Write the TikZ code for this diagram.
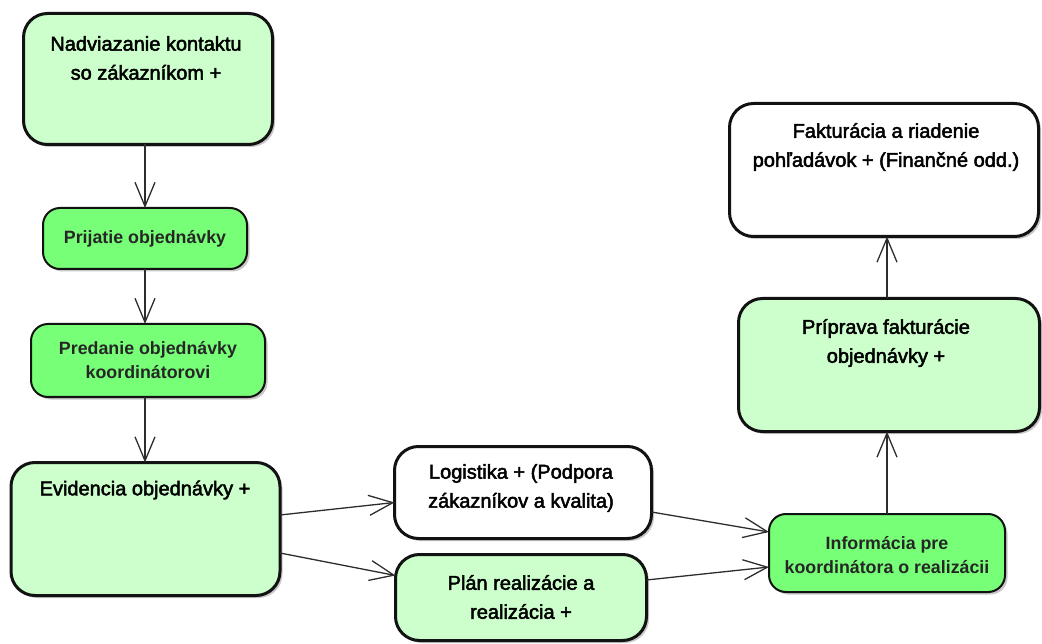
\documentclass[tikz,border=0pt]{standalone}
\usepackage{fontspec}
\setmainfont{Liberation Sans}
\newfontfamily\boxfont[FakeBold=2.4]{Liberation Sans}
\usetikzlibrary{arrows.meta,shadows}

\definecolor{palegreen}{RGB}{204,255,204}
\definecolor{brightgreen}{RGB}{119,255,119}
\definecolor{edgeink}{RGB}{18,18,18}
\definecolor{wireink}{RGB}{45,45,45}

\tikzset{
  stepbox/.style={draw=edgeink, rectangle, inner sep=0pt, outer sep=0pt,
    drop shadow={shadow xshift=2.5pt, shadow yshift=-2.5pt, opacity=0.22, fill=black}},
  major/.style={stepbox, line width=3pt, rounded corners=24pt},
  minor/.style={stepbox, line width=2pt, rounded corners=17pt, fill=brightgreen},
  pale/.style={major, fill=palegreen},
  blank/.style={major, fill=white},
  bigtext/.style={font=\boxfont\fontsize{20}{29}\selectfont, align=center, inner sep=0pt, text=black},
  smalltext/.style={font=\bfseries\fontsize{17.8}{24.5}\selectfont, align=center, inner sep=0pt, text=black!85},
  flow/.style={draw=wireink, line width=1.3pt,
    -{Straight Barb[length=24pt,width=20pt,line width=1.3pt]}}
}

\begin{document}
\begin{tikzpicture}[x=1pt,y=-1pt]
  \useasboundingbox (0,0) rectangle (1042,644);

  % process boxes
  \node[pale,  minimum width=249pt, minimum height=131pt] (contact)  at (148,79)    {};
  \node[minor, minimum width=204pt, minimum height=61pt]  (accept)   at (145,238.5) {};
  \node[minor, minimum width=234pt, minimum height=73pt]  (handover) at (148,360.5) {};
  \node[pale,  minimum width=269pt, minimum height=133pt] (record)   at (145.5,529) {};
  \node[blank, minimum width=257pt, minimum height=92pt]  (logist)   at (523,492.5) {};
  \node[pale,  minimum width=251pt, minimum height=86pt]  (plan)     at (521,597.5) {};
  \node[minor, minimum width=236pt, minimum height=78pt]  (inform)   at (887,553)   {};
  \node[pale,  minimum width=301pt, minimum height=133pt] (prepare)  at (889,365)   {};
  \node[blank, minimum width=309pt, minimum height=133pt] (invoice)  at (884,170)   {};

  % box labels
  \node[bigtext]   (contactT)  at (146,58)  {Nadviazanie kontaktu\\so zákazníkom +};
  \node[smalltext] (acceptT)   at (145,239) {Prijatie objednávky};
  \node[smalltext] (handoverT) at (148,360) {Predanie objednávky\\koordinátorovi};
  \node[bigtext]   (recordT)   at (145,490) {Evidencia objednávky +};
  \node[bigtext]   (logistT)   at (521,488) {Logistika + (Podpora\\zákazníkov a kvalita)};
  \node[bigtext]   (planT)     at (521,597) {Plán realizácie a\\realizácia +};
  \node[smalltext] (informT)   at (887,555) {Informácia pre\\koordinátora o realizácii};
  \node[bigtext]   (prepareT)  at (886,343) {Príprava fakturácie\\objednávky +};
  \node[bigtext]   (invoiceT)  at (886,147) {Fakturácia a riadenie\\pohľadávok + (Finančné odd.)};

  % connectors
  \draw[flow] (contact.south -| accept.north) -- (accept.north);
  \draw[flow] (accept.south) -- (handover.north -| accept.south);
  \draw[flow] (handover.south -| accept.south) -- (record.north -| accept.south);
  \draw[flow] ([yshift=14pt]record.east) -- ([yshift=-10pt]logist.west);
  \draw[flow] ([yshift=-24pt]record.east) -- ([yshift=22pt]plan.west);
  \draw[flow] ([yshift=-19.5pt]logist.east) -- ([yshift=21pt]inform.west);
  \draw[flow] ([yshift=17.5pt]plan.east) -- ([yshift=-14pt]inform.west);
  \draw[flow] (inform.north) -- (prepare.south -| inform.north);
  \draw[flow] (prepare.north -| inform.north) -- (invoice.south -| inform.north);
\end{tikzpicture}
\end{document}
